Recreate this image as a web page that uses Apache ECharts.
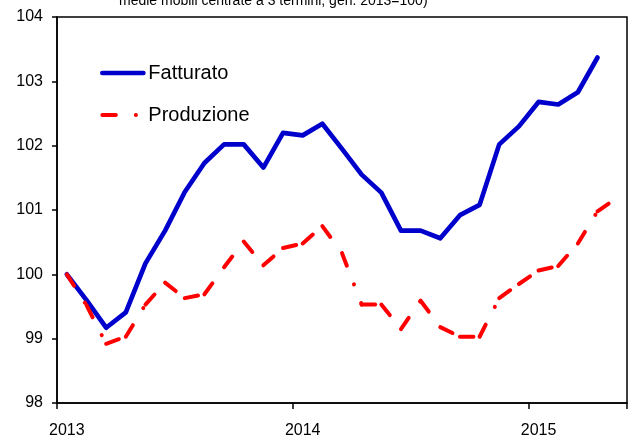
<!DOCTYPE html>
<html>
<head>
<meta charset="utf-8">
<script src="https://cdn.jsdelivr.net/npm/echarts@6/dist/echarts.min.js"></script>
<style>
  html, body { margin: 0; padding: 0; background: #fff; }
  #chart { width: 630px; height: 436px; }
</style>
</head>
<body>
<div id="chart"></div>
<script>
// ---- data ----
const months = [
  '2013-01','2013-02','2013-03','2013-04','2013-05','2013-06','2013-07','2013-08','2013-09','2013-10','2013-11','2013-12',
  '2014-01','2014-02','2014-03','2014-04','2014-05','2014-06','2014-07','2014-08','2014-09','2014-10','2014-11','2014-12',
  '2015-01','2015-02','2015-03','2015-04','2015-05'
];
const fatturato = [
  100.00, 99.60, 99.17, 99.41, 100.17, 100.68, 101.28, 101.73, 102.02, 102.02, 101.66, 102.20,
  102.16, 102.34, 101.95, 101.55, 101.27, 100.68, 100.68, 100.56, 100.92, 101.08, 102.02, 102.30,
  102.68, 102.64, 102.83, 103.37
];
const produzione = [
  100.00, 99.52, 98.92, 99.03, 99.53, 99.87, 99.63, 99.69, 100.11, 100.51, 100.14, 100.41,
  100.48, 100.75, 100.33, 99.53, 99.53, 99.15, 99.59, 99.18, 99.03, 99.03, 99.63, 99.85,
  100.06, 100.13, 100.48, 100.98, 101.19
];
const seriesNames = ['Fatturato', 'Produzione'];
const titleText = 'medie mobili centrate a 3 termini, gen. 2013=100)';
const yMin = 98, yMax = 104, yStep = 1;

// ---- chart ----
const FONT = 'Liberation Sans';
const BLUE = '#0000CC';
const RED = '#FF0000';
const RED_DASH = [13.5, 20, 0.1, 20];

const segData = [];
for (let i = 0; i < produzione.length - 1; i++) {
  segData.push([i, produzione[i], produzione[i + 1]]);
}

const chart = echarts.init(document.getElementById('chart'), null, { renderer: 'canvas' });
chart.setOption({
  animation: false,
  backgroundColor: '#fff',
  title: {
    text: titleText,
    left: 119,
    top: -5.5,
    padding: 0,
    textStyle: { fontFamily: FONT, fontSize: 14, fontWeight: 'normal', color: '#000' }
  },
  legend: {
    orient: 'vertical',
    left: 100,
    top: 63,
    padding: 0,
    itemWidth: 41,
    itemHeight: 14,
    itemGap: 22,
    selectedMode: false,
    textStyle: { fontFamily: FONT, fontSize: 20, color: '#000' },
    itemStyle: { opacity: 0 },
    data: [
      { name: seriesNames[0], lineStyle: { width: 4.7, cap: 'round', type: 'solid', color: BLUE } },
      { name: seriesNames[1], lineStyle: { width: 4, cap: 'round', type: RED_DASH, color: RED } }
    ]
  },
  grid: {
    left: 57, right: 3, top: 17, bottom: 33,
    containLabel: false,
    outerBoundsMode: 'none',
    show: true, borderColor: '#000', borderWidth: 1.5, backgroundColor: 'transparent'
  },
  xAxis: {
    type: 'category',
    data: months,
    boundaryGap: true,
    axisLine: { lineStyle: { color: '#000', width: 1.5 } },
    axisTick: { show: true, interval: 11, length: 6, lineStyle: { color: '#000', width: 1.5 } },
    axisLabel: {
      interval: 11, margin: 20, fontFamily: FONT, fontSize: 16, color: '#000',
      formatter: v => v.slice(0, 4)
    },
    splitLine: { show: false }
  },
  yAxis: {
    type: 'value',
    min: yMin, max: yMax, interval: yStep,
    axisLine: { show: true, lineStyle: { color: '#000', width: 1.5 } },
    axisTick: { show: true, length: 5, lineStyle: { color: '#000', width: 1.5 } },
    axisLabel: { margin: 14, fontFamily: FONT, fontSize: 16, color: '#000' },
    splitLine: { show: false }
  },
  series: [
    {
      name: seriesNames[0],
      type: 'line',
      data: fatturato,
      symbol: 'none',
      lineStyle: { color: BLUE, width: 4.7, cap: 'round', join: 'round' },
      itemStyle: { color: BLUE },
      z: 2
    },
    {
      // legend proxy for the dashed series
      name: seriesNames[1],
      type: 'line',
      data: [],
      symbol: 'none',
      lineStyle: { color: RED, width: 4, type: RED_DASH, cap: 'round' },
      itemStyle: { color: RED }
    },
    {
      name: seriesNames[1],
      type: 'custom',
      data: segData,
      encode: { x: 0, y: 1 },
      z: 3,
      renderItem: function (params, api) {
        const p1 = api.coord([api.value(0), api.value(1)]);
        const p2 = api.coord([api.value(0) + 1, api.value(2)]);
        return {
          type: 'line',
          shape: { x1: p1[0], y1: p1[1], x2: p2[0], y2: p2[1] },
          style: { stroke: RED, lineWidth: 4, lineDash: RED_DASH, lineCap: 'round', fill: null }
        };
      }
    }
  ]
});
</script>
</body>
</html>
